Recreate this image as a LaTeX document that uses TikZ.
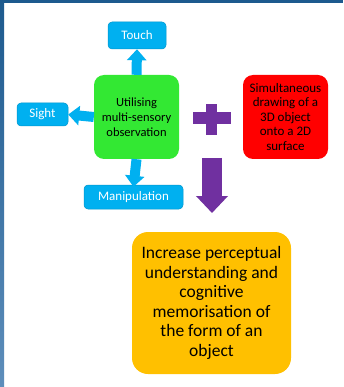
\documentclass[tikz,border=0pt]{standalone}
\usepackage{fontspec}
\setmainfont{Carlito}
\usetikzlibrary{arrows.meta,positioning}
\definecolor{skyblue}{HTML}{00B0F0}
\definecolor{leaf}{HTML}{33E833}
\definecolor{signal}{HTML}{FF0000}
\definecolor{violet}{HTML}{7030A0}
\definecolor{amber}{HTML}{FFC000}
\definecolor{frametop}{HTML}{1D5A8E}
\definecolor{framebot}{HTML}{5E8EBB}

\begin{document}
\begin{tikzpicture}[x=1pt,y=-1pt,
  every node/.style={font=\fontsize{12.5}{15}\selectfont,align=center,inner sep=0pt},
  sense/.style={fill=skyblue,draw=skyblue!85!black,line width=0.5pt,
    rounded corners=4pt,text=white,font=\fontsize{13}{15}\selectfont},
  blockbox/.style={rounded corners=10pt,minimum width=85pt,minimum height=84pt},
  bluearr/.style={draw=skyblue,line width=10pt,
    -{Triangle[width=19pt,length=11pt]}},
  bigarr/.style={draw=violet,line width=20pt,
    -{Triangle[width=31pt,length=17pt]}}
]
\useasboundingbox (0,0) rectangle (343,387);
\fill[white] (0,0) rectangle (343,387);
% slide frame
\shade[top color=frametop,bottom color=framebot] (0,0) rectangle (4,387);
\fill[frametop] (0,0) rectangle (343,3.5);

% boxes
\node[blockbox,fill=leaf] (obs) at (136.5,117)
  {Utilising\\multi-sensory\\observation};
\node[sense,minimum width=58pt,minimum height=27pt] (touch) at (137,35.5) {Touch};
\node[sense,minimum width=51pt,minimum height=23pt] (sight) at (42.5,114.5) {Sight};
\node[sense,minimum width=99pt,minimum height=24pt] (manip) at (133.5,197) {Manipulation};
\node[blockbox,fill=signal,font=\fontsize{13}{14.5}\selectfont] (draw3d) at (285.5,117)
  {Simultaneous\\drawing of a\\3D object\\onto a 2D\\surface};
\node[fill=amber,rounded corners=16pt,minimum width=159pt,minimum height=142pt,
      font=\fontsize{17.5}{19.5}\selectfont] (result) at (211.5,303)
  {Increase perceptual\\understanding and\\cognitive\\memorisation of\\the form of an\\object};

% arrows
\draw[bluearr] (obs.north) -- (touch.south);
\draw[bluearr] (obs.west) -- (sight.east);
\draw[bluearr] (obs.south) -- ([yshift=-2pt]manip.north);

% plus sign
\fill[violet] (193,112) rectangle (231,124);
\fill[violet] (206,104) rectangle (217,135);

\coordinate (dropstart) at (212,158);
\coordinate (droptip) at (212,213);
\draw[bigarr] (dropstart) -- (droptip);
\end{tikzpicture}
\end{document}
